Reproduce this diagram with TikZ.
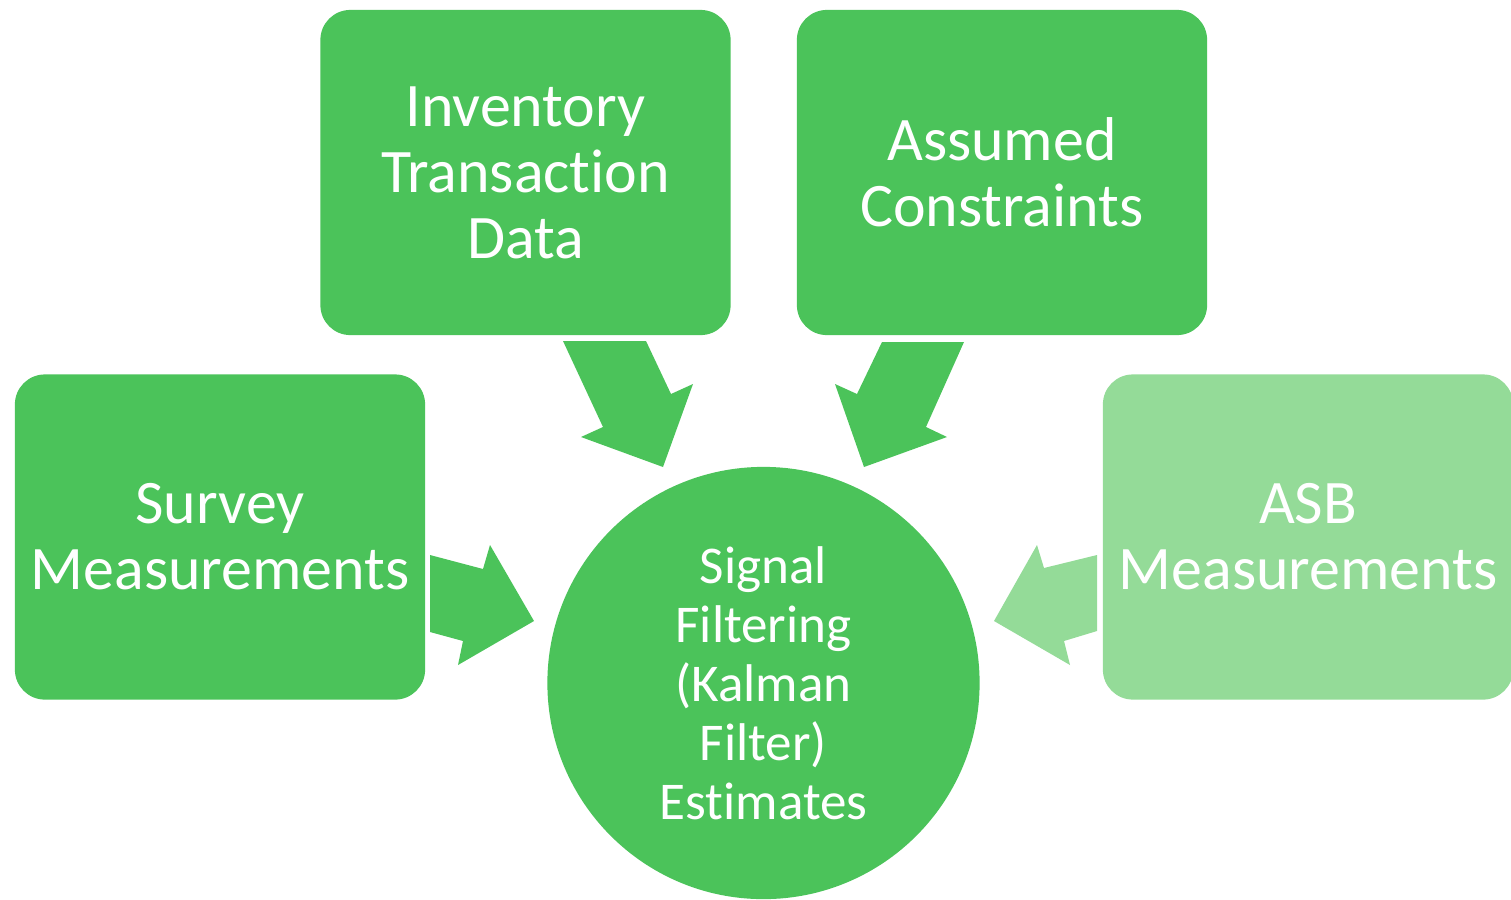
\documentclass[tikz,border=0pt]{standalone}
\usepackage{fontspec}
\setmainfont{Carlito}[Ligatures=NoCommon]
\usetikzlibrary{positioning}
\definecolor{boxgreen}{RGB}{75,195,90}
\definecolor{palegreen}{RGB}{148,219,152}

\begin{document}
\begin{tikzpicture}[x=0.01cm, y=-0.01cm,
  box/.style = {fill=boxgreen, rounded corners=0.3cm, minimum width=4.1cm, minimum height=3.25cm,
    inner sep=0, align=center, text=white, font=\fontsize{17.6}{18.8}\selectfont},
  hub/.style = {fill=boxgreen, circle, minimum size=4.32cm, inner sep=0,
    align=center, text=white, font=\fontsize{15.1}{16.8}\selectfont},
  blockarrow/.style = {fill=boxgreen}]
	\useasboundingbox (0,0) rectangle (1511,899);
	\node[box] (inv) at (525.5,172.5){Inventory\\Transaction\\Data};
	\node[box] (ass) at (1002,172.5){Assumed\\Constraints};
	\node[box] (sur) at (220,537){Survey\\Measurements};
	\node[box, fill=palegreen] (asb) at (1308,537){ASB\\Measurements};
	\node[hub] (kf) at (763.5,683){Signal\\Filtering\\(Kalman\\Filter)\\Estimates};
	% block arrows into the filter
	\fill[blockarrow] (430,555) -- (483,569) -- (490,545) -- (534,621) -- (458,665) -- (463,641) -- (430,632) -- cycle;
	\fill[blockarrow] (563,341) -- (646,341) -- (671,394) -- (693,384) -- (663,467) -- (581,437) -- (603,427) -- cycle;
	\fill[blockarrow] (882,342) -- (964,342) -- (926,427) -- (947,437) -- (864,467) -- (835,384) -- (857,394) -- cycle;
	\fill[blockarrow, fill=palegreen] (1097,555) -- (1044,568) -- (1037,545) -- (994,621) -- (1070,665) -- (1064,641) -- (1097,631) -- cycle;
\end{tikzpicture}
\end{document}
